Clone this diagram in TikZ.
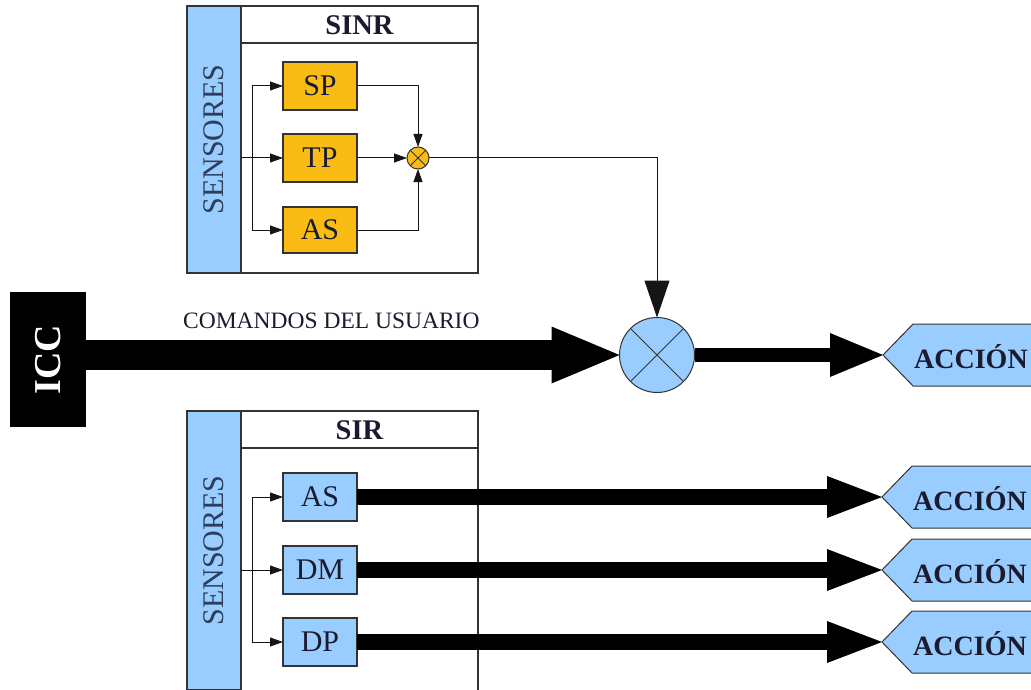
\documentclass[tikz,border=0pt]{standalone}
\usepackage{fontspec}
\setmainfont{Liberation Serif}
\usetikzlibrary{arrows.meta,calc}

\definecolor{skyfill}{HTML}{99CCFF}
\definecolor{amber}{HTML}{F9BC15}
\definecolor{edge}{HTML}{333333}
\definecolor{wirecol}{HTML}{151515}
\definecolor{ink}{HTML}{1B1B2F}
\definecolor{sensink}{HTML}{2C3E5C}

% thick block arrow: start, tip, shaft width, head length, head width
\newcommand\fatarrow[5]{%
  \draw[line width=#3] (#1) -- ([xshift=-#4+0.5pt]#2);
  \fill ([xshift=-#4,yshift=#5/2]#2) -- (#2) -- ([xshift=-#4,yshift=-#5/2]#2) -- cycle;}

% pointed action flag whose tip is the named coordinate
\newcommand\accionflag[3]{% name, tip x, tip y
  \coordinate (#1) at (#2,#3);
  \filldraw[fill=skyfill, draw=edge, line width=1pt]
    (#1) -- ++(30,-31) -- ++(170,0) -- ++(0,62) -- ++(-170,0) -- cycle;
  \node[acctext, anchor=base west] (#1t) at ([xshift=31pt,yshift=-13pt]#1) {ACCIÓN};}

\begin{document}
\begin{tikzpicture}[x=1pt,y=-1pt,
  box/.style={draw=edge, line width=1.1pt, inner sep=0pt, outer sep=0pt,
    minimum width=74pt, minimum height=48pt, text=ink,
    font=\fontsize{30}{30}\selectfont},
  sinrbox/.style={box, fill=amber},
  sirbox/.style={box, fill=skyfill},
  strip/.style={draw=edge, line width=1.1pt, fill=skyfill, inner sep=0pt,
    outer sep=0pt, minimum width=54pt},
  sens/.style={rotate=90, text=sensink, inner sep=0pt,
    font=\fontsize{30}{30}\selectfont},
  frame/.style={draw=edge, line width=1.1pt},
  titletext/.style={text=ink, inner sep=0pt, font=\bfseries\fontsize{28.5}{28.5}\selectfont},
  acctext/.style={text=ink, inner sep=0pt, font=\bfseries\fontsize{28}{28}\selectfont},
  wire/.style={draw=wirecol, line width=1pt},
  tip/.style={-{Triangle[length=13pt,width=9pt]}},
  mixer/.style={circle, draw=edge, line width=1pt, inner sep=0pt, outer sep=0pt},
]
\useasboundingbox (0,0) rectangle (1031,690);
\clip (0,0) rectangle (1031,690);

% ---------- SINR block ----------
\draw[frame] (187,6) rectangle (478,273);
\draw[frame] (241,43) -- (478,43);
\node[titletext] (sinrt) at (359.5,25) {SINR};
\node[strip, minimum height=267pt] (sens1) at (214,139.5) {};
\node[sens] (sens1t) at (sens1) {SENSORES};

\node[sinrbox] (sp)  at (320,86)  {SP};
\node[sinrbox] (tp)  at (320,158) {TP};
\node[sinrbox, minimum height=46pt] (as1) at (320,230) {AS};

\coordinate (j1) at (252,158);
\draw[wire, tip] (sens1.east |- tp) -- (tp.west);
\draw[wire, tip] (j1) |- (sp.west);
\draw[wire, tip] (j1) |- (as1.west);

\node[mixer, fill=amber, minimum size=22pt] (m1) at (418,158) {};
\draw[edge, line width=0.9pt] (m1.north east) -- (m1.south west)
                              (m1.north west) -- (m1.south east);
\draw[wire, tip] (sp.east) -| (m1.north);
\draw[wire, tip] (as1.east) -| (m1.south);
\draw[wire, tip] (tp.east) -- (m1.west);

% ---------- ICC and main mixer ----------
\node[fill=black, minimum width=76pt, minimum height=135pt, inner sep=0pt] (icc) at (48,359.5) {};
\node[rotate=90, text=white, inner sep=0pt, font=\bfseries\fontsize{38}{38}\selectfont] (icct) at (icc) {ICC};

\node[mixer, fill=skyfill, minimum size=75pt] (mix) at (657,355) {};
\draw[edge, line width=1pt] (mix.north east) -- (mix.south west)
                            (mix.north west) -- (mix.south east);

\draw[wire, -{Triangle[length=37pt,width=25pt]}] (m1.east) -| (mix.north);

\node[anchor=base west, inner sep=0pt, text=ink, font=\fontsize{23.5}{23.5}\selectfont]
  (cmd) at (183,328) {COMANDOS DEL USUARIO};
\fatarrow{icc.east |- mix.west}{mix.west}{30pt}{68pt}{57pt}

\accionflag{a0}{883}{355}
\fatarrow{mix.east}{a0}{14pt}{53pt}{44pt}

% ---------- SIR block ----------
\draw[frame] (187,411) rectangle (478,700);
\draw[frame] (241,448) -- (478,448);
\node[titletext] (sirt) at (359.5,430) {SIR};
\node[strip, minimum height=279pt] (sens2) at (214,550.5) {};
\node[sens] (sens2t) at (sens2) {SENSORES};

\node[sirbox] (as2) at (320,497) {AS};
\node[sirbox] (dm)  at (320,570) {DM};
\node[sirbox] (dp)  at (320,642) {DP};

\coordinate (j2) at (252,570);
\draw[wire, tip] (sens2.east |- dm) -- (dm.west);
\draw[wire, tip] (j2) |- (as2.west);
\draw[wire, tip] (j2) |- (dp.west);

\accionflag{a1}{882}{497}
\accionflag{a2}{882}{570}
\accionflag{a3}{882}{642}
\fatarrow{as2.east}{a1}{16pt}{55pt}{42pt}
\fatarrow{dm.east}{a2}{16pt}{55pt}{42pt}
\fatarrow{dp.east}{a3}{16pt}{55pt}{42pt}
\end{tikzpicture}
\end{document}
